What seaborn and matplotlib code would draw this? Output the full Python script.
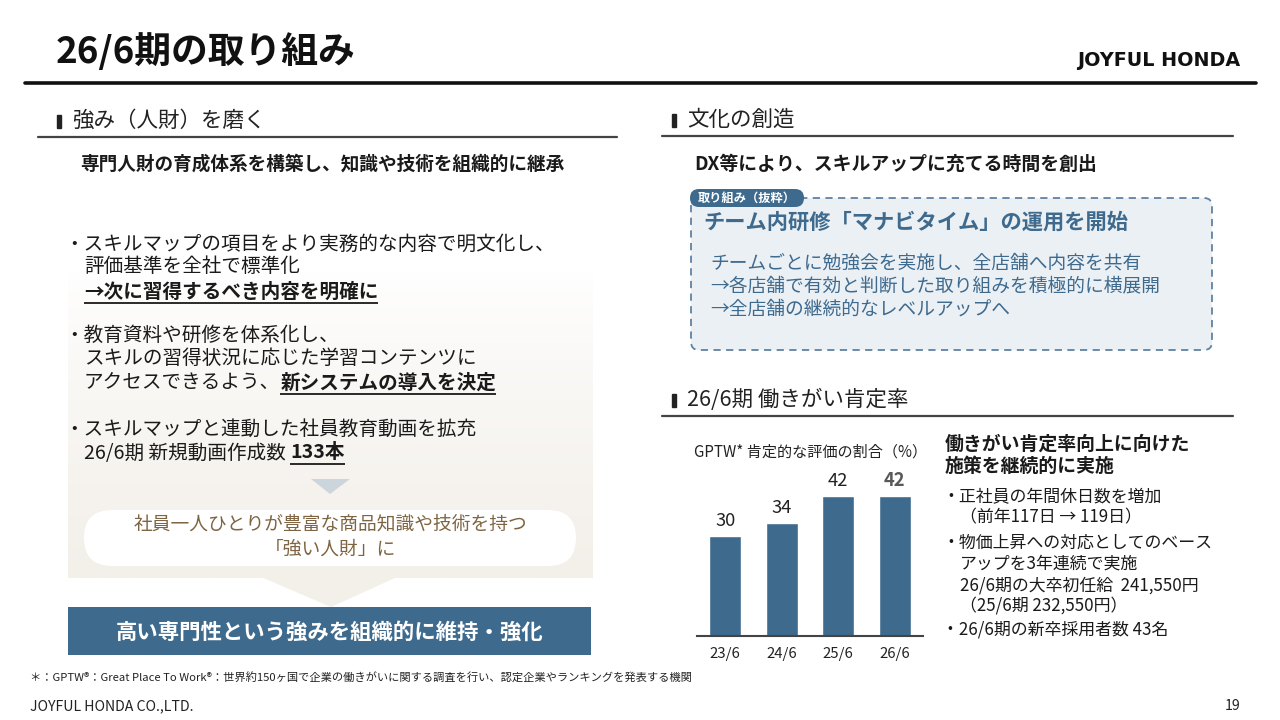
import matplotlib
matplotlib.use("Agg")
import matplotlib.pyplot as plt
import matplotlib.patches as mpatches
import numpy as np
import pandas as pd
import seaborn as sns

# chart data
periods = ["23/6", "24/6", "25/6", "26/6"]
rates = [30, 34, 42, 42]

BLUE = "#3E6A8E"
DARK = "#1a1a1a"
BROWN = "#7E6442"

sns.set_theme(style="white")
plt.rcParams['font.family'] = ['Noto Sans CJK JP', 'DejaVu Sans']

W, H = 1280, 720
fig = plt.figure(figsize=(12.8, 7.2), dpi=100)
ax0 = fig.add_axes([0, 0, 1, 1])
ax0.set_xlim(0, W)
ax0.set_ylim(H, 0)
ax0.axis('off')


def txt(x, y, s, size, weight='normal', color=DARK, ha='left', **kw):
    return ax0.text(x, y, s, fontsize=size, fontweight=weight, color=color,
                    ha=ha, va='center', **kw)


def right_edge(t):
    bb = t.get_window_extent(renderer=fig.canvas.get_renderer())
    return bb.x0, bb.x1


def underline(t, y, color=DARK, lw=1.3):
    x0, x1 = right_edge(t)
    ax0.plot([x0, x1], [y, y], color=color, lw=lw, solid_capstyle='butt')


# header
txt(56, 52, "26/6期の取り組み", 26.5, 'bold', '#111111')
txt(1240, 61, "JOYFUL HONDA", 13.8, 'heavy', '#111111', ha='right',
    family=['DejaVu Sans'])
ax0.plot([25, 1256], [83, 83], color='#111111', lw=2.6)

# section headers
def section(xbar, y, label, x0, x1):
    ax0.add_patch(mpatches.Rectangle((xbar, y - 6), 4, 13, color='#222222'))
    txt(xbar + 15, y, label, 15.5, color='#222222')
    ax0.plot([x0, x1], [y + 16, y + 16], color='#444444', lw=1.6)

section(57, 121, "強み（人財）を磨く", 38, 617)
section(672, 120, "文化の創造", 662, 1233)
section(672, 400, "26/6期 働きがい肯定率", 662, 1233)

# left panel
txt(80, 164, "専門人財の育成体系を構築し、知識や技術を組織的に継承", 13.4, 'bold')

grad = np.linspace(0, 1, 256).reshape(-1, 1)
top = np.array([1.0, 1.0, 1.0])
bot = np.array([243, 239, 233]) / 255
img = top + (bot - top) * grad[..., None] ** 0.8
ax0.imshow(img, extent=[68, 593, 578, 270], aspect='auto', zorder=0)
ax0.add_patch(mpatches.Polygon([[261, 577], [397, 577], [331, 607]],
                               closed=True, color='#F3EFE9', lw=0, zorder=0))

fs = 14.1
bx = 64
txt(bx, 244, "・スキルマップの項目をより実務的な内容で明文化し、", fs)
txt(84, 266, "評価基準を全社で標準化", fs)
t = txt(84, 292, "→次に習得するべき内容を明確に", fs, 'bold')
txt(bx, 335, "・教育資料や研修を体系化し、", fs)
txt(84, 359, "スキルの習得状況に応じた学習コンテンツに", fs)
t2a = txt(84, 383, "アクセスできるよう、", fs)
txt(bx, 429, "・スキルマップと連動した社員教育動画を拡充", fs)
t3a = txt(84, 453, "26/6期 新規動画作成数 ", fs)

fig.canvas.draw()
underline(t, 303)
t2b = txt(right_edge(t2a)[1], 383, "新システムの導入を決定", fs, 'bold')
t3b = txt(right_edge(t3a)[1], 453, "133本", fs, 'bold')
fig.canvas.draw()
underline(t2b, 394)
underline(t3b, 464)

ax0.add_patch(mpatches.Polygon([[311, 479], [350, 479], [330, 494]],
                               closed=True, color='#CDD5DC', lw=0))
ax0.add_patch(mpatches.FancyBboxPatch((84, 510), 492, 56,
                                      boxstyle="round,pad=0,rounding_size=28",
                                      fc='white', ec='none'))
txt(330, 524, "社員一人ひとりが豊富な商品知識や技術を持つ", 13.5, color=BROWN, ha='center')
txt(330, 549, "「強い人財」に", 13.5, color=BROWN, ha='center')

ax0.add_patch(mpatches.Rectangle((68, 607), 523, 48, color=BLUE, lw=0))
txt(330, 632, "高い専門性という強みを組織的に維持・強化", 15.4, 'bold', 'white', ha='center')

# right upper panel
txt(694, 164, "DX等により、スキルアップに充てる時間を創出", 13.6, 'bold')
ax0.add_patch(mpatches.FancyBboxPatch((691, 198), 521, 152,
                                      boxstyle="round,pad=0,rounding_size=8",
                                      fc='#EBF0F4', ec='#5F82A2', lw=1.3,
                                      linestyle=(0, (4, 3))))
ax0.add_patch(mpatches.FancyBboxPatch((690, 189), 114, 18,
                                      boxstyle="round,pad=0,rounding_size=9",
                                      fc=BLUE, ec='none'))
txt(747, 198, "取り組み（抜粋）", 8.8, 'bold', 'white', ha='center')
txt(703, 222, "チーム内研修「マナビタイム」の運用を開始", 15.3, 'bold', BLUE)
txt(710, 263, "チームごとに勉強会を実施し、全店舗へ内容を共有", 13.5, color=BLUE)
txt(710, 286, "→各店舗で有効と判断した取り組みを積極的に横展開", 13.5, color=BLUE)
txt(710, 309, "→全店舗の継続的なレベルアップへ", 13.5, color=BLUE)

# right lower text
txt(945, 444, "働きがい肯定率向上に向けた", 13.6, 'bold')
txt(945, 466, "施策を継続的に実施", 13.6, 'bold')
fs2 = 12.2
txt(942, 497, "・正社員の年間休日数を増加", fs2)
txt(960, 517, "（前年117日 → 119日）", fs2)
txt(942, 543, "・物価上昇への対応としてのベース", fs2)
txt(960, 564, "アップを3年連続で実施", fs2)
txt(960, 585, "26/6期の大卒初任給  241,550円", fs2)
txt(960, 606, "（25/6期 232,550円）", fs2)
txt(942, 629, "・26/6期の新卒採用者数 43名", fs2)

# bar chart
txt(694, 452, "GPTW* 肯定的な評価の割合（%）", 10.9, color='#222222')
axb = fig.add_axes([697 / W, (H - 636) / H, 226 / W, 50 * 3.333 / H])
axb.patch.set_alpha(0)
df = pd.DataFrame({"period": periods, "rate": rates})
sns.barplot(data=df, x="period", y="rate", color=BLUE, saturation=1,
            width=0.57, ax=axb)
axb.set_xlim(-0.5, 3.5)
axb.set_ylim(0, 50)
axb.set_yticks([])
axb.set_xlabel("")
axb.set_ylabel("")
axb.tick_params(axis='x', length=0, pad=8, labelsize=10.8, labelcolor='#222222')
sns.despine(ax=axb, left=True)
axb.spines['bottom'].set_color('#444444')
axb.spines['bottom'].set_linewidth(1.5)
for i, v in enumerate(rates):
    last = i == len(rates) - 1
    axb.annotate(str(v), (i, v), xytext=(0, 4), textcoords='offset points',
                 ha='center', va='bottom', fontsize=13.2,
                 fontweight='bold' if last else 'normal',
                 color='#595959' if last else '#222222')

# footer
txt(30, 678, "＊：GPTW®：Great Place To Work®：世界約150ヶ国で企業の働きがいに関する調査を行い、認定企業やランキングを発表する機関",
    8.1, color='#222222')
txt(30, 706, "JOYFUL HONDA CO.,LTD.", 10.2, color='#222222')
txt(1240, 706, "19", 10.2, color='#222222', ha='right')

fig.savefig("out.png", dpi=100)
